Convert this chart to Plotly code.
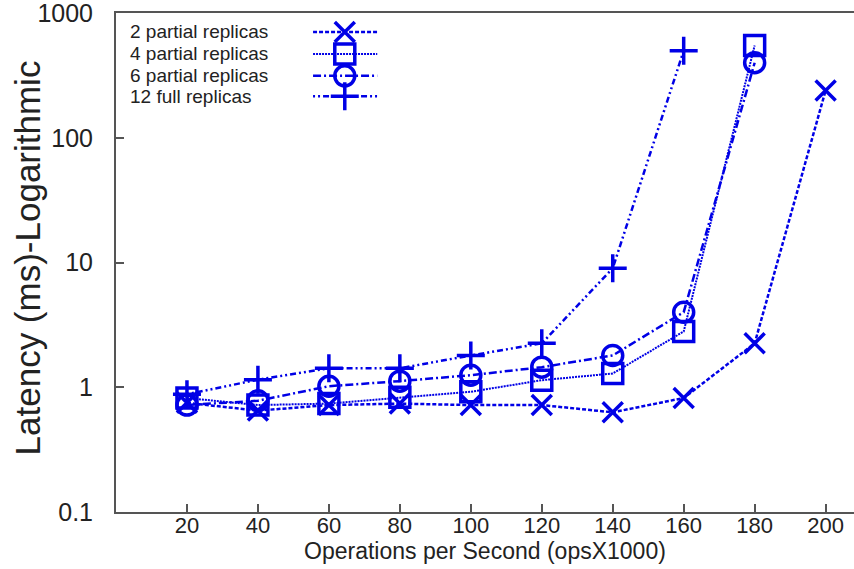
import plotly.graph_objects as go

# Throughput levels (thousands of operations per second)
ops = [20, 40, 60, 80, 100, 120, 140, 160, 180, 200]

# Mean latency in ms for each configuration
lat_2_partial = [0.75, 0.65, 0.72, 0.74, 0.72, 0.72, 0.63, 0.82, 2.25, 240]
lat_4_partial = [0.82, 0.72, 0.74, 0.83, 0.92, 1.14, 1.29, 2.8, 550]
lat_6_partial = [0.72, 0.78, 1.02, 1.12, 1.25, 1.45, 1.8, 4.0, 400]
lat_12_full = [0.88, 1.15, 1.42, 1.42, 1.8, 2.25, 9.0, 500]

series_names = ["2 partial replicas", "4 partial replicas",
                "6 partial replicas", "12 full replicas"]
series_values = [lat_2_partial, lat_4_partial, lat_6_partial, lat_12_full]

x_ticks = [20, 40, 60, 80, 100, 120, 140, 160, 180, 200]
y_ticks = [0.1, 1, 10, 100, 1000]
y_tick_text = ["0.1", "1", "10", "100", "1000"]

BLUE = "#0000e6"
FONT = "Liberation Sans, Arial, sans-serif"

styles = [
    dict(symbol="x-thin-open", dash="4px,2px", width=2.5),
    dict(symbol="square-open", dash="2px,1px", width=2),
    dict(symbol="circle-open", dash="8px,3px,2px,3px", width=2.5),
    dict(symbol="cross-thin-open", dash="2px,3px,2px,3px,6px,3px", width=2.5),
]

fig = go.Figure()

for name, vals, st in zip(series_names, series_values, styles):
    fig.add_trace(go.Scatter(
        x=ops[:len(vals)], y=vals, name=name, mode="lines+markers",
        line=dict(color=BLUE, width=st["width"], dash=st["dash"]),
        marker=dict(symbol=st["symbol"], size=20, color=BLUE,
                    line=dict(color=BLUE, width=3.5)),
        showlegend=False,
    ))

# Key in the upper-left corner: label on the left, line sample on the right
key_rows_y = [0.962, 0.918, 0.874, 0.833]
key_x0, key_xm, key_x1 = 0.267, 0.310, 0.354
for name, st, ry in zip(series_names, styles, key_rows_y):
    fig.add_trace(go.Scatter(
        x=[key_x0, key_x1], y=[ry, ry], mode="lines",
        xaxis="x2", yaxis="y2", showlegend=False, hoverinfo="skip",
        line=dict(color=BLUE, width=st["width"], dash=st["dash"]),
    ))
    fig.add_trace(go.Scatter(
        x=[key_xm], y=[ry], mode="markers",
        xaxis="x2", yaxis="y2", showlegend=False, hoverinfo="skip",
        marker=dict(symbol=st["symbol"], size=20, color=BLUE,
                    line=dict(color=BLUE, width=3.5)),
    ))
    fig.add_annotation(
        xref="paper", yref="paper", x=0.016, y=ry, text=name,
        showarrow=False, xanchor="left", yanchor="middle",
        font=dict(family=FONT, size=19, color="#222222"),
    )

fig.add_annotation(
    xref="paper", yref="paper", x=-0.12, y=0.509,
    text="Latency (ms)-Logarithmic", textangle=-90, showarrow=False,
    xanchor="center", yanchor="middle",
    font=dict(family=FONT, size=35, color="#222222"),
)
fig.add_annotation(
    xref="paper", yref="paper", x=0.5, y=-0.078,
    text="Operations per Second (opsX1000)", showarrow=False,
    xanchor="center", yanchor="middle",
    font=dict(family=FONT, size=23, color="#222222"),
)

fig.update_layout(
    width=854, height=569,
    margin=dict(l=116, r=0, t=13, b=57),
    paper_bgcolor="white", plot_bgcolor="white",
    font=dict(family=FONT, color="#222222"),
    xaxis=dict(
        range=[0, 208], tickvals=x_ticks, ticks="inside", ticklen=8,
        tickwidth=1.5, tickcolor="#555555",
        showline=True, linecolor="#555555", linewidth=2, mirror=True,
        showgrid=False, zeroline=False, ticklabelstandoff=-7,
        tickfont=dict(family=FONT, size=22, color="#222222"),
    ),
    yaxis=dict(
        type="log", range=[-1, 3.001], tickvals=y_ticks, ticktext=y_tick_text,
        ticks="inside", ticklen=8, tickwidth=1.5, tickcolor="#555555",
        showline=True, linecolor="#555555", linewidth=2, mirror=False,
        showgrid=False, zeroline=False, ticklabelstandoff=16,
        ticklabeloverflow="allow",
        tickfont=dict(family=FONT, size=25, color="#222222"),
    ),
    xaxis2=dict(range=[0, 1], domain=[0, 1], overlaying="x", visible=False,
                anchor="y2"),
    yaxis2=dict(range=[0, 1], domain=[0, 1], overlaying="y", visible=False,
                anchor="x2"),
)

fig.write_html("out.html", config={"displayModeBar": False})
